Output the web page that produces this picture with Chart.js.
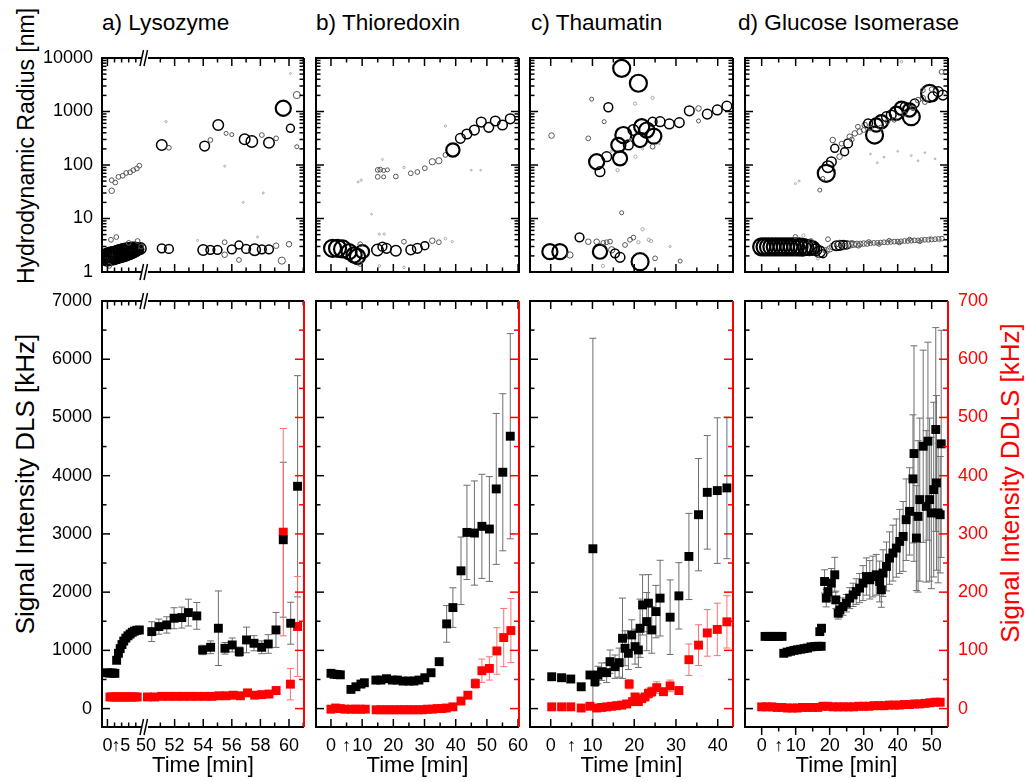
<!DOCTYPE html>
<html>
<head>
<meta charset="utf-8">
<script src="https://cdn.jsdelivr.net/npm/chart.js@4"></script>
<style>
  html, body { margin: 0; padding: 0; background: #fff; overflow: hidden; }
  body { width: 1026px; height: 782px; position: relative; font-family: 'Liberation Sans', Arial, sans-serif; }
  .panel { position: absolute; }
  .title { position: absolute; font-size: 22.6px; line-height: 22.6px; white-space: nowrap; }
  .ytitle { position: absolute; white-space: nowrap; line-height: 1; transform: translate(-50%, -50%) rotate(-90deg); }
</style>
</head>
<body>
<div class="title" style="left:102px;top:12px">a) Lysozyme</div>
<div class="title" style="left:316px;top:12px">b) Thioredoxin</div>
<div class="title" style="left:531px;top:12px">c) Thaumatin</div>
<div class="title" style="left:738px;top:12px">d) Glucose Isomerase</div>
<div class="ytitle" style="left:26px;top:146px;font-size:23px">Hydrodynamic Radius [nm]</div>
<div class="ytitle" style="left:25px;top:484px;font-size:26px">Signal Intensity DLS [kHz]</div>
<div class="ytitle" style="left:1010px;top:483px;font-size:26px;color:#f00">Signal Intensity DDLS [kHz]</div>
<script>
// ---- a) Lysozyme (time axis broken between ~10 and 50 min) ----
const lysoTime = [0, 0.7, 1.4, 2.1, 2.6, 3.1, 3.6, 4.1, 4.6, 5.2, 5.8, 6.4, 7.0, 7.6, 8.3, 9.0,
  50.4, 50.9, 51.45, 51.96, 52.5, 52.96, 53.55, 53.96, 54.52, 55.06, 55.52, 56.03, 56.52, 57.03, 57.55, 58.09, 58.55, 59.09, 59.6, 60.12, 60.6];
const lysoDLS = [615, 610, 612, 605, 830, 950, 1030, 1100, 1160, 1210, 1250, 1280, 1310, 1330, 1345, 1350,
  1322, 1408, 1437, 1552, 1563, 1649, 1592, 1007, 1053, 1380, 1036, 1093, 978, 1179, 1122, 1053, 1110, 1351, 2900, 1466, 3818];
const lysoDLSErr = [0, 0, 0, 0, 0, 0, 0, 0, 0, 0, 0, 0, 0, 0, 0, 0,
  170, 130, 140, 180, 180, 230, 230, 80, 110, 640, 100, 120, 80, 220, 130, 110, 160, 300, 1330, 360, 1900];
const lysoDDLSTime = [0.7, 1.4, 2.1, 2.8, 3.5, 4.2, 4.9, 5.6, 6.3, 7.0, 7.7, 8.4,
  50.1, 50.6, 51.1, 51.6, 52.1, 52.6, 53.1, 53.6, 54.1, 54.6, 55.1, 55.6, 56.1, 56.6, 57.1, 57.6, 58.1, 58.6, 59.1, 59.6, 60.1, 60.6];
const lysoDDLS = [20, 20, 20, 20, 20, 20, 20, 20, 20, 20, 20, 20,
  20, 20, 21, 21, 21, 21, 21, 21, 21, 21, 22, 22, 23, 22, 27, 23, 24, 25, 31, 303, 42, 141];
const lysoDDLSErr = [0, 0, 0, 0, 0, 0, 0, 0, 0, 0, 0, 0,
  0, 0, 0, 0, 0, 0, 0, 0, 0, 0, 0, 0, 0, 0, 4, 0, 0, 0, 7, 178, 27, 86];
const lysoRadTime = [0, 0.5, 1, 1.5, 2, 2.5, 3, 3.5, 4, 4.5, 5, 5.5, 6, 6.5, 7, 7.5, 8, 8.5, 9.3,
  1.0, 2.5, 0.5, 6.0, 8.5, 9.5,
  1.2, 1.2, 2.2, 3.1, 4.3, 5.3, 6.4, 7.3, 8.3, 9.0,
  51.1, 51.6, 51.4, 54.1, 54.5, 55.05, 55.6, 56.0, 56.9, 57.4, 58.1, 58.6, 59.1, 59.6, 60.1, 60.55, 60.55, 60.1,
  51.1, 51.6, 54.0, 54.5, 55.0, 55.5, 55.5, 56.0, 56.5, 56.5, 57.0, 57.6, 58.1, 58.6, 59.1, 59.5, 60.0,
  53.6, 57.8, 55.5, 58.2, 56.8];
const lysoRad = [1.9, 1.95, 2.0, 2.0, 2.05, 2.1, 2.15, 2.2, 2.25, 2.3, 2.35, 2.4, 2.45, 2.5, 2.55, 2.6, 2.65, 2.7, 2.75,
  4.0, 4.5, 1.3, 3.5, 3.8, 3.0,
  33, 52, 47, 60, 63, 71, 73, 80, 86, 97,
  237, 210, 646, 226, 293, 560, 390, 370, 302, 275, 363, 261, 315, 1150, 485, 2030, 220, 5140,
  2.77, 2.7, 2.58, 2.6, 2.6, 2.1, 3.6, 2.65, 3.2, 1.68, 2.7, 2.6, 2.65, 2.65, 3.1, 1.63, 3.3,
  3.9, 4.5, 95, 30, 20];
const lysoRadW = [1, 1, 1, 1, 1, 1, 1, 1, 1, 1, 1, 0.95, 0.95, 0.9, 0.9, 0.85, 0.8, 0.75, 0.7,
  0.3, 0.3, 0.3, 0.3, 0.3, 0.3,
  0.35, 0.3, 0.3, 0.3, 0.3, 0.3, 0.3, 0.3, 0.3, 0.3,
  0.65, 0.3, 0.12, 0.6, 0.3, 0.65, 0.25, 0.25, 0.65, 0.7, 0.3, 0.65, 0.3, 0.9, 0.5, 0.45, 0.25, 0.1,
  0.55, 0.55, 0.65, 0.55, 0.55, 0.35, 0.3, 0.55, 0.5, 0.3, 0.55, 0.7, 0.55, 0.55, 0.35, 0.45, 0.35,
  0.1, 0.1, 0.1, 0.1, 0.1];
const lysoTickAt = [0, 2.4, 5, 50, 52, 54, 56, 58, 60];
const lysoTickLabels = ['0', '\u2191', '5', '50', '52', '54', '56', '58', '60'];

// ---- b) Thioredoxin ----
const thioTime = [0, 1, 2, 3, 6.4, 8.0, 9.6, 10.7, 14.4, 16.0, 17.8, 19.7, 21.3, 23.1, 25.0, 26.6, 28.2, 30.1, 32.1, 34.7,
  37.1, 39.1, 41.7, 43.6, 46.0, 48.4, 50.8, 53.0, 55.1, 57.5];
const thioDLS = [606, 590, 585, 580, 330, 375, 421, 444, 490, 490, 513, 490, 490, 473, 473, 473, 490, 530, 616, 806,
  1455, 1735, 2366, 3026, 3015, 3130, 3084, 3773, 4059, 4678];
const thioDLSErr = [0, 0, 0, 0, 0, 0, 0, 0, 0, 0, 0, 0, 0, 0, 0, 0, 0, 0, 0, 0,
  315, 340, 580, 810, 895, 894, 900, 1296, 1349, 1762];
const thioDDLSTime = [0, 1.5, 3, 4.5, 6.5, 8, 9.5, 11,
  14.5, 16, 17.5, 19, 20.5, 22, 23.5, 25, 26.5, 28, 29.5, 31, 32.5, 34, 35.5,
  37, 39.1, 41.7, 43.9, 46.3, 48.4, 50.8, 53.2, 55.4, 57.7];
const thioDDLS = [-1, 1, 0, -1, -1, -1, -1, -1,
  -2, -2, -2, -2, -2, -2, -2, -2, -2, -2, -2, -1, -1, 0, 0,
  1, 3, 13, 23, 43, 65, 69, 99, 122, 134];
const thioDDLSErr = [0, 0, 0, 0, 0, 0, 0, 0,
  0, 0, 0, 0, 0, 0, 0, 0, 0, 0, 0, 0, 0, 0, 0,
  0, 0, 0, 4, 8, 20, 20, 40, 50, 55];
const thioRadTime = [0.5, 2.1, 3.7, 5.8, 7.4, 8.5, 10.1, 9.4, 9.4, 14.9, 16.5, 17.8, 20.8, 23.4, 25.6, 27.7, 30.1, 32.5, 34.6, 36.7, 38.9, 15.5, 17.1, 15.5, 23.4,
  15.0, 15.8, 16.9, 18.1, 15.0, 16.9, 9.7, 8.7, 20.8, 23.4, 25.6, 27.7, 30.1, 32.5, 34.6, 36.7, 39.1, 41.5, 43.6, 46.0,
  48.2, 50.6, 52.7, 55.0, 57.5, 36.7, 16.5, 45, 48, 13];
const thioRad = [2.77, 2.77, 2.7, 2.4, 2.08, 1.95, 2.4, 3.3, 1.41, 2.58, 2.97, 2.77, 2.5, 3.68, 2.6, 2.77, 3.1, 3.84, 3.6, 4.2, 3.7, 5.1, 5.1, 1.3, 1.22,
  81, 82, 79, 81, 60, 60, 52, 48, 61, 90, 70, 74, 87, 115, 120, 154, 191, 315, 380, 450,
  635, 505, 665, 560, 730, 535, 127, 80, 80, 12];
const thioRadW = [1, 1, 1, 0.9, 0.9, 0.9, 0.8, 0.3, 0.3, 0.7, 0.55, 0.6, 0.65, 0.3, 0.6, 0.6, 0.5, 0.35, 0.3, 0.15, 0.12, 0.12, 0.12, 0.15, 0.15,
  0.3, 0.3, 0.25, 0.25, 0.3, 0.25, 0.12, 0.1, 0.3, 0.12, 0.3, 0.3, 0.3, 0.4, 0.4, 0.3, 0.8, 0.6, 0.6, 0.6,
  0.6, 0.6, 0.6, 0.6, 0.6, 0.12, 0.1, 0.08, 0.08, 0.08];
const thioTickAt = [0, 5, 10, 20, 30, 40, 50, 60];
const thioTickLabels = ['0', '\u2191', '10', '20', '30', '40', '50', '60'];

// ---- c) Thaumatin ----
const thauTime = [0.24, 2.6, 4.8, 7.3, 9.4, 10.1, 10.6, 11.3, 12.2, 13.4, 14.2, 15.4, 16.4, 17.2, 17.8, 18.6, 19.4, 20.2, 21.0, 21.4,
  22.0, 23.0, 23.4, 24.2, 25.2, 26.2, 28.6, 30.7, 33.1, 35.4, 37.5, 39.9, 42.2];
const thauDLS = [547, 530, 508, 375, 577, 2745, 462, 577, 634, 617, 806, 720, 789, 1208, 1036, 950, 1265, 1064, 1007, 1380,
  1781, 1494, 1811, 1351, 1666, 1897, 1570, 1936, 2613, 3330, 3714, 3744, 3790];
const thauDLSErr = [0, 0, 0, 0, 0, 3615, 80, 150, 150, 170, 200, 200, 250, 690, 300, 280, 260, 300, 300, 500,
  517, 500, 490, 400, 450, 650, 640, 570, 740, 964, 975, 1250, 1215];
const thauDDLSTime = [0.24, 2.6, 4.8, 7.3, 9.4, 11.0, 12.2, 13.4, 14.6, 15.8, 17.0, 18.2, 18.8, 19.6, 20.2, 21.0, 21.8, 22.6, 23.4, 24.2,
  25.4, 27.0, 28.6, 30.7, 33.1, 35.4, 37.5, 39.9, 42.2];
const thauDDLS = [3, 3, 3, 1, 4, 1, 2, 3, 4, 5, 6, 8, 42, 12, 20, 12, 17, 20, 26, 29,
  36, 29, 39, 31, 84, 109, 130, 136, 149];
const thauDDLSErr = [0, 0, 0, 0, 0, 0, 0, 0, 0, 0, 0, 0, 8, 0, 5, 0, 5, 5, 8, 8,
  10, 6, 10, 6, 27, 35, 40, 45, 45];
const thauRadTime = [-0.2, 2.2, 4.6, 6.9, 9.0, 11.0, 11.8, 12.6, 13.4, 14.2, 14.6, 15.4, 16.6, 17.8, 19.0, 19.8, 21.4, 21.0, 23.5, 24.0, 25.0, 31.0, 28.6, 17.0, 22.0, 12.5,
  17.0, 21.0, 13.8, 0.2, 9.8, 12.8, 9.0, 20.2, 24.4, 11.0, 11.8, 13.4, 16.2, 16.6, 17.4, 18.6, 19.8, 21.4, 21.8, 23.0,
  24.7, 24.4, 26.2, 28.4, 30.8, 33.2, 35.4, 37.5, 39.9, 42.2, 35.4, 24.4, 16.0, 20.3, 14.5, 19.0, 26, 22];
const thauRad = [2.4, 2.4, 2.08, 4.45, 3.68, 3.68, 2.4, 3.5, 3.6, 3.7, 2.6, 2.23, 1.88, 3.2, 4.0, 4.4, 1.56, 3.6, 4.0, 3.8, 1.8, 1.6, 3.0, 12.8, 6.3, 1.3,
  6400, 3370, 1200, 355, 1700, 645, 315, 1400, 1800, 115, 75, 143, 237, 133, 363, 237, 450, 293, 520, 450,
  347, 645, 645, 585, 620, 1030, 1140, 895, 1070, 1260, 665, 220, 80, 143, 180, 300, 250, 200];
const thauRadW = [0.9, 0.9, 0.4, 0.55, 0.35, 0.35, 0.85, 0.3, 0.3, 0.3, 0.4, 0.55, 0.6, 0.3, 0.3, 0.3, 1.0, 0.2, 0.2, 0.2, 0.3, 0.25, 0.12, 0.25, 0.2, 0.2,
  1.0, 1.0, 0.55, 0.35, 0.25, 0.25, 0.3, 0.2, 0.2, 0.9, 0.6, 0.6, 0.85, 0.85, 0.95, 0.6, 0.65, 0.85, 0.9, 0.9,
  0.9, 0.55, 0.6, 0.6, 0.6, 0.6, 0.35, 0.6, 0.6, 0.6, 0.25, 0.3, 0.2, 0.2, 0.1, 0.1, 0.1, 0.1];
const thauTickAt = [0, 5, 10, 20, 30, 40];
const thauTickLabels = ['0', '\u2191', '10', '20', '30', '40'];

// ---- d) Glucose Isomerase ----
const glucTime = [1, 2, 3, 4, 5, 6, 6.5, 7.5, 8.5, 9.5, 10.5, 11.5, 12.5, 13.5, 14.5, 15.5, 16.5, 17.5, 17.1, 17.6,
  18.5, 19.0, 19.5, 20.5, 21.5, 21.8, 22.5, 23.0, 23.9, 24.9, 25.9, 26.9, 27.8, 28.8, 29.8, 30.8, 31.8, 32.7, 33.7, 34.7, 35.2,
  35.7, 36.7, 37.6, 38.6, 39.6, 40.6, 41.6, 42.5, 43.5,
  44.5, 44.8, 45.5, 46.0, 46.5, 47.5, 48.4, 48.9, 49.4, 49.9, 50.6, 51.2, 51.4, 51.9, 52.5, 52.8];
const glucDLS = [1240, 1240, 1240, 1240, 1240, 1240, 950, 970, 985, 1000, 1010, 1020, 1030, 1040, 1060, 1065, 1070, 1070, 1322, 1380,
  2183, 1897, 2010, 2155, 2298, 1867, 1638, 1695, 1752, 1810, 1897, 1953, 2010, 2069, 2155, 2268, 2212, 2268, 2298, 2183, 2040,
  2327, 2441, 2585, 2671, 2757, 2871, 2957, 3244, 3387,
  3945, 4380, 2929, 3301, 3589, 4506, 3473, 4592, 3589, 3360, 3761, 4793, 3876, 3360, 3330, 4547];
const glucDLSErr = [0, 0, 0, 0, 0, 0, 0, 0, 0, 0, 0, 0, 0, 0, 0, 0, 0, 0, 60, 60,
  200, 150, 150, 250, 300, 150, 100, 120, 150, 150, 180, 200, 220, 250, 300, 320, 330, 350, 350, 350, 300,
  400, 420, 450, 480, 500, 550, 600, 700, 750,
  1100, 1850, 900, 1300, 1400, 1650, 1300, 1700, 1400, 1300, 1500, 1750, 1500, 1200, 1000, 1950];
const glucDDLSTime = [0, 1.5, 3, 4.5, 6, 7.5, 9, 10.5, 12, 13.5, 15, 16.5, 18, 19.5, 21, 22.5, 24, 25.5,
  27, 28.5, 30, 31.5, 33, 34.5, 36, 37.5, 39, 40.5, 42, 43.5, 45, 46.5, 48, 49.5, 51, 52.5];
const glucDDLS = [3, 3, 3, 2, 2, 1, 1, 1, 2, 2, 2, 2, 4, 4, 3, 3, 3, 3,
  3, 4, 4, 4, 5, 5, 5, 6, 6, 6, 7, 7, 8, 8, 9, 10, 11, 11];
const glucRadTime = [0, 1, 2, 3, 4, 5, 6, 7, 8, 9, 10, 11, 12, 13, 14, 15, 16, 17, 18, 19, 20,
  21, 22, 23, 24, 25, 26, 27, 28, 29, 30, 31, 32, 33, 34, 35, 36, 37, 38, 39, 40, 41, 42, 43, 44, 45, 46, 47, 48, 49, 50, 51, 52, 53,
  22.5, 24.5, 26.5, 28.5, 31.5, 34.5, 37.5, 40.5, 43.5, 46.5, 49.5, 52.5, 9.9, 12.3, 14.5, 16.5, 19.5,
  19.0, 19.5, 20.5, 20.9, 21.5, 22.9, 24.4, 25.4, 25.9, 27.4, 28.8, 30.3, 31.3, 33.2, 33.7, 35.2, 36.7, 38.1, 39.6, 41.1,
  42.1, 43.5, 44.0, 45.0, 46.0, 47.4, 49.4, 50.4, 51.9, 53.3, 52.9, 47.4, 41.1, 28.3, 17.1, 18.0, 9.9, 11, 23.5, 26.5,
  30, 32, 35, 37, 39, 42, 44.5, 48, 50,
  32, 36, 40, 44, 48, 51, 34, 46];
const glucRad = [2.95, 2.95, 2.95, 2.95, 2.95, 2.95, 2.95, 2.95, 2.95, 2.95, 2.95, 2.95, 2.9, 2.9, 2.85, 2.8, 2.6, 2.4, 2.2, 2.5, 2.7,
  3.0, 3.1, 3.15, 3.2, 3.2, 3.25, 3.3, 3.3, 3.35, 3.4, 3.4, 3.45, 3.5, 3.5, 3.55, 3.6, 3.6, 3.65, 3.7, 3.7, 3.75, 3.8, 3.8, 3.85, 3.9, 3.9, 3.95, 4.0, 4.0, 4.05, 4.1, 4.15, 4.2,
  3.4, 3.0, 3.5, 3.1, 3.7, 3.3, 3.9, 3.5, 4.1, 3.7, 4.3, 3.9, 4.6, 4.8, 3.8, 1.8, 4.1,
  70, 93, 115, 293, 205, 143, 177, 253, 338, 390, 420, 560, 600, 363, 560, 645, 800, 860, 925, 1150,
  1230, 1070, 800, 1420, 1630, 1770, 2180, 1900, 2350, 2030, 5500, 2500, 8500, 520, 34, 56, 45, 50, 250, 300,
  450, 480, 500, 650, 700, 900, 1150, 1500, 2600,
  160, 140, 180, 150, 170, 130, 110, 120];
const glucRadW = [1, 1, 1, 1, 1, 1, 1, 1, 1, 1, 1, 1, 1, 0.9, 0.9, 0.8, 0.7, 0.7, 0.5, 0.4, 0.4,
  0.45, 0.6, 0.6, 0.55, 0.5, 0.45, 0.4, 0.4, 0.35, 0.35, 0.35, 0.3, 0.3, 0.3, 0.3, 0.3, 0.3, 0.3, 0.3, 0.3, 0.3, 0.3, 0.3, 0.3, 0.3, 0.3, 0.3, 0.3, 0.3, 0.3, 0.3, 0.3, 0.3,
  0.4, 0.4, 0.3, 0.3, 0.25, 0.25, 0.25, 0.25, 0.25, 0.25, 0.2, 0.2, 0.25, 0.2, 0.3, 0.2, 0.3,
  1, 0.7, 0.6, 0.35, 0.5, 0.35, 0.5, 0.55, 0.35, 0.35, 0.35, 0.35, 0.55, 1, 0.8, 0.8, 0.6, 0.6, 0.8, 0.8,
  0.55, 0.8, 1, 0.55, 0.35, 0.35, 1, 0.6, 0.6, 0.6, 0.3, 0.3, 0.15, 0.3, 0.25, 0.25, 0.1, 0.1, 0.3, 0.3,
  0.3, 0.3, 0.3, 0.3, 0.3, 0.3, 0.3, 0.3, 0.3,
  0.08, 0.08, 0.08, 0.08, 0.08, 0.08, 0.08, 0.08];
const glucTickAt = [0, 5, 10, 20, 30, 40, 50];
const glucTickLabels = ['0', '\u2191', '10', '20', '30', '40', '50'];

// ---- shared axis ticks ----
const radiusTicks = [1, 10, 100, 1000, 10000];
const dlsTicks = [0, 1000, 2000, 3000, 4000, 5000, 6000, 7000];
const ddlsTicks = [0, 100, 200, 300, 400, 500, 600, 700];

// panel boxes on the page (chart areas)
const COLS = [[102, 304], [316, 519], [530, 733], [745, 948]];
const ROWS = [[58, 272], [301, 727]];
const PAD = 100, PAD_T = 30;

Chart.defaults.font.family = "'Liberation Sans', Arial, sans-serif";
Chart.defaults.color = '#000';
Chart.defaults.animation = false;
Chart.defaults.plugins.legend.display = false;
Chart.defaults.plugins.tooltip.enabled = false;

// squeeze the first 10 minutes of the lysozyme run in front of the break
const brk = t => t < 30 ? 47.3 + 0.248 * t : t;
const same = t => t;

const bubbleR = w => 0.5 + 8 * Math.pow(w, 1.2);
const bubbleLW = w => w >= 0.8 ? 2.2 : w >= 0.5 ? 1.5 : 1;
const bubbleCol = w => w >= 0.5 ? '#000' : w >= 0.25 ? '#555' : '#aaa';

const range = (a, b, s) => { const out = []; for (let v = a; v <= b + 1e-9; v += s) out.push(v); return out; };
const logMinor = [];
[1, 10, 100, 1000].forEach(d => { for (let k = 2; k < 10; k++) logMinor.push(k * d); });

const xy = (xs, ys, map) => xs.map((x, i) => ({ x: map(x), y: ys[i] }));

function line(ctx, x1, y1, x2, y2) {
  ctx.beginPath(); ctx.moveTo(x1, y1); ctx.lineTo(x2, y2); ctx.stroke();
}

// inward/outward tick marks, frame, red right axis and the axis break
const framePlugin = {
  id: 'frame',
  afterDraw(chart, args, o) {
    const { ctx, chartArea: a, scales } = chart;
    const xs = scales.x, ys = scales.y, y2 = scales.y2;
    ctx.save();
    ctx.lineWidth = 1.5;
    ctx.strokeStyle = '#000';
    const dir = o.bottomOut ? 1 : -1;
    [[o.xMajor, 8], [o.xMinor, 4.5]].forEach(([vals, len]) => vals.forEach(v => {
      const p = xs.getPixelForValue(v);
      line(ctx, p, a.top, p, a.top + len);
      line(ctx, p, a.bottom, p, a.bottom + dir * len);
    }));
    [[o.yMajor, 8], [o.yMinor, 4.5]].forEach(([vals, len]) => vals.forEach(v => {
      const p = ys.getPixelForValue(v);
      line(ctx, a.left, p, a.left + len, p);
      if (!y2) line(ctx, a.right, p, a.right - len, p);
    }));
    if (y2) {
      ctx.strokeStyle = '#f00';
      [[o.rMajor, 9], [o.rMinor, 5]].forEach(([vals, len]) => vals.forEach(v => {
        const p = y2.getPixelForValue(v);
        line(ctx, a.right, p, a.right - len, p);
      }));
    }
    ctx.lineWidth = 2;
    ctx.strokeStyle = '#000';
    ctx.beginPath();
    ctx.moveTo(a.right, a.top); ctx.lineTo(a.left, a.top); ctx.lineTo(a.left, a.bottom); ctx.lineTo(a.right, a.bottom);
    if (!y2) ctx.lineTo(a.right, a.top);
    ctx.stroke();
    if (y2) { ctx.strokeStyle = '#f00'; line(ctx, a.right, a.top, a.right, a.bottom); }
    if (o.brk != null) {
      const p = xs.getPixelForValue(o.brk);
      [a.top, a.bottom].forEach(y => {
        ctx.fillStyle = '#fff';
        ctx.fillRect(p - 3, y - 2, 6, 4);
        ctx.strokeStyle = '#000';
        ctx.lineWidth = 1.5;
        line(ctx, p - 5, y + 8, p - 1.5, y - 8);
        line(ctx, p - 1, y + 8, p + 2.5, y - 8);
      });
    }
    ctx.restore();
  }
};

const errorBarPlugin = {
  id: 'errorBars',
  beforeDatasetsDraw(chart) {
    const { ctx, chartArea: a } = chart;
    ctx.save();
    ctx.beginPath(); ctx.rect(a.left, a.top, a.width, a.height); ctx.clip();
    ctx.lineWidth = 1;
    chart.data.datasets.forEach(ds => {
      if (!ds.errors) return;
      const xs = chart.scales.x, ys = chart.scales[ds.yAxisID];
      ctx.strokeStyle = ds.errorColor;
      ds.data.forEach((pt, i) => {
        const e = ds.errors[i];
        if (!e) return;
        const x = xs.getPixelForValue(pt.x);
        const lo = ys.getPixelForValue(pt.y - e), hi = ys.getPixelForValue(pt.y + e);
        line(ctx, x, lo, x, hi);
        line(ctx, x - 3.5, lo, x + 3.5, lo);
        line(ctx, x - 3.5, hi, x + 3.5, hi);
      });
    });
    ctx.restore();
  }
};

Chart.register(framePlugin, errorBarPlugin);

// scale boxes get fixed sizes so every chart area sits exactly on its panel
function fixSize(size) {
  return s => {
    if (s.isHorizontal()) s.height = size; else s.width = size;
    s.paddingLeft = s.paddingRight = s.paddingTop = s.paddingBottom = 0;
  };
}

function addCanvas(x, y, w, h) {
  const div = document.createElement('div');
  div.className = 'panel';
  div.style.cssText = `left:${x}px;top:${y}px;width:${w}px;height:${h}px`;
  const cv = document.createElement('canvas');
  cv.width = w; cv.height = h;
  cv.style.width = w + 'px'; cv.style.height = h + 'px';
  div.appendChild(cv);
  document.body.appendChild(div);
  return cv;
}

function panel(p) {
  const [l, r] = COLS[p.col];
  const [t, b] = ROWS[p.row];
  const below = p.row === 0 ? 20 : 55;
  const cv = addCanvas(l - PAD, t - PAD_T, r - l + 2 * PAD, b - t + PAD_T + below);
  const map = p.map;
  const bottomRow = p.row === 1;
  const scales = {
    x: {
      type: 'linear', min: p.xMin, max: p.xMax,
      afterFit: fixSize(below),
      afterBuildTicks: s => { s.ticks = p.tickAt.map(v => ({ value: map(v) })); },
      grid: { display: false, drawTicks: false },
      border: { display: false },
      ticks: {
        display: bottomRow, autoSkip: false, maxRotation: 0, minRotation: 0, padding: 8,
        font: c => ({ size: 18, weight: p.tickLabels[c.index] === '\u2191' ? 'bold' : 'normal' }),
        color: '#000', callback: (v, i) => p.tickLabels[i]
      },
      title: { display: bottomRow, text: 'Time [min]', font: { size: 22 }, color: '#000', padding: { top: 0, bottom: 3 } }
    },
    y: bottomRow ? {
      type: 'linear', min: -316, max: 7000,
      afterFit: fixSize(PAD),
      afterBuildTicks: s => { s.ticks = dlsTicks.map(v => ({ value: v })); },
      grid: { display: false, drawTicks: false }, border: { display: false },
      ticks: { display: p.col === 0, padding: 10, font: { size: 18 }, color: '#000', callback: v => String(v) }
    } : {
      type: 'logarithmic', min: 1, max: 10000,
      afterFit: fixSize(PAD),
      afterBuildTicks: s => { s.ticks = radiusTicks.map(v => ({ value: v })); },
      grid: { display: false, drawTicks: false }, border: { display: false },
      ticks: { display: p.col === 0, padding: 9, font: { size: 18 }, color: '#000', callback: v => String(v) }
    }
  };
  if (bottomRow) {
    scales.y2 = {
      type: 'linear', position: 'right', min: -31.6, max: 700,
      afterFit: fixSize(PAD),
      afterBuildTicks: s => { s.ticks = ddlsTicks.map(v => ({ value: v })); },
      grid: { display: false, drawTicks: false }, border: { display: false },
      ticks: { display: p.col === 3, padding: 10, font: { size: 18 }, color: '#f00', callback: v => String(v) }
    };
  }
  let datasets;
  if (bottomRow) {
    datasets = [
      { data: xy(p.time, p.dls, map), errors: p.dlsErr, errorColor: '#6e6e6e', yAxisID: 'y',
        pointStyle: 'rect', pointRadius: 6.3, pointBackgroundColor: '#000', pointBorderWidth: 0 },
      { data: xy(p.ddlsTime, p.ddls, map), errors: p.ddlsErr, errorColor: '#ff7070', yAxisID: 'y2',
        pointStyle: 'rect', pointRadius: 6.3, pointBackgroundColor: '#f00', pointBorderWidth: 0 }
    ];
  } else {
    const w = p.radW;
    datasets = [{
      data: xy(p.radTime, p.rad, map), yAxisID: 'y',
      pointRadius: c => bubbleR(w[c.dataIndex]),
      pointBorderWidth: c => bubbleLW(w[c.dataIndex]),
      pointBorderColor: c => bubbleCol(w[c.dataIndex]),
      pointBackgroundColor: 'rgba(0,0,0,0)'
    }];
  }
  return new Chart(cv, {
    type: 'scatter',
    data: { datasets },
    options: {
      responsive: false,
      layout: { padding: { left: 0, right: bottomRow ? 0 : PAD, top: PAD_T, bottom: 0 } },
      scales,
      plugins: {
        frame: {
          xMajor: p.xMajor.map(map), xMinor: p.xMinor.map(map), bottomOut: bottomRow && p.col === 3,
          yMajor: bottomRow ? dlsTicks : radiusTicks,
          yMinor: bottomRow ? range(500, 6500, 1000) : logMinor,
          rMajor: ddlsTicks, rMinor: range(50, 650, 100),
          brk: p.brk != null ? map(p.brk) : null
        }
      }
    }
  });
}

const setups = [
  { col: 0, xMin: 46.92, xMax: 61.05, map: brk, brk: 10.6, tickAt: lysoTickAt, tickLabels: lysoTickLabels,
    xMajor: [0, 52, 54, 56, 58, 60], xMinor: [2, 4, 6, 8, 51, 53, 55, 57, 59, 61],
    time: lysoTime, dls: lysoDLS, dlsErr: lysoDLSErr, ddlsTime: lysoDDLSTime, ddls: lysoDDLS, ddlsErr: lysoDDLSErr,
    radTime: lysoRadTime, rad: lysoRad, radW: lysoRadW },
  { col: 1, xMin: -4.8, xMax: 60.3, map: same, tickAt: thioTickAt, tickLabels: thioTickLabels,
    xMajor: range(0, 60, 10), xMinor: range(5, 55, 10),
    time: thioTime, dls: thioDLS, dlsErr: thioDLSErr, ddlsTime: thioDDLSTime, ddls: thioDDLS, ddlsErr: thioDDLSErr,
    radTime: thioRadTime, rad: thioRad, radW: thioRadW },
  { col: 2, xMin: -4.96, xMax: 43.66, map: same, tickAt: thauTickAt, tickLabels: thauTickLabels,
    xMajor: range(0, 40, 10), xMinor: range(5, 35, 10),
    time: thauTime, dls: thauDLS, dlsErr: thauDLSErr, ddlsTime: thauDDLSTime, ddls: thauDDLS, ddlsErr: thauDDLSErr,
    radTime: thauRadTime, rad: thauRad, radW: thauRadW },
  { col: 3, xMin: -4.9, xMax: 54.8, map: same, tickAt: glucTickAt, tickLabels: glucTickLabels,
    xMajor: range(0, 50, 10), xMinor: range(5, 45, 10),
    time: glucTime, dls: glucDLS, dlsErr: glucDLSErr, ddlsTime: glucDDLSTime, ddls: glucDDLS, ddlsErr: glucDDLS.map(() => 0),
    radTime: glucRadTime, rad: glucRad, radW: glucRadW }
];

setups.forEach(s => {
  panel(Object.assign({}, s, { row: 0 }));
  panel(Object.assign({}, s, { row: 1 }));
});
</script>
</body>
</html>
